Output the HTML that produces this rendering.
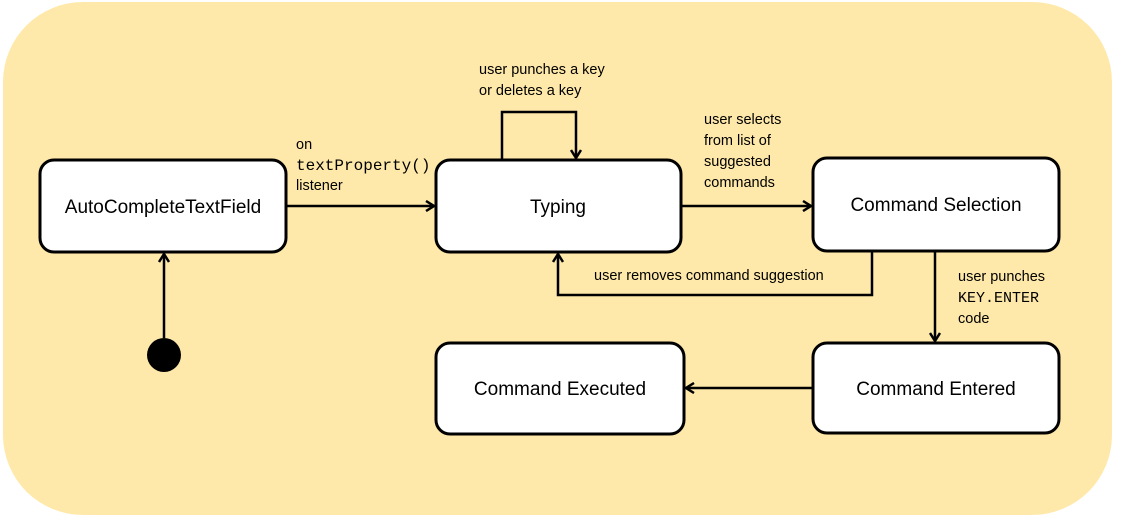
<!DOCTYPE html>
<html><head><meta charset="utf-8"><style>
html,body{margin:0;padding:0;background:#fff;}
svg{display:block;font-family:"Liberation Sans",sans-serif;}
.m{font-family:"Liberation Mono",monospace;}
</style></head><body>
<svg width="1122" height="520" viewBox="0 0 1122 520">
<defs><marker id="a" markerWidth="12" markerHeight="12" refX="10" refY="6" orient="auto" markerUnits="userSpaceOnUse"><path d="M2,1 L10,6 L2,11" fill="none" stroke="#000" stroke-width="2.5"/></marker></defs>
<rect x="3" y="2" width="1109" height="513" rx="80" fill="#FFE9AA"/>
<g fill="#fff" stroke="#000" stroke-width="3">
<rect x="40" y="160" width="246" height="92" rx="14"/>
<rect x="436" y="160" width="245" height="92" rx="14"/>
<rect x="813" y="158" width="246" height="93" rx="14"/>
<rect x="813" y="343" width="246" height="90" rx="14"/>
<rect x="436" y="343" width="248" height="91" rx="14"/>
</g>
<circle cx="164" cy="355" r="17" fill="#000"/>
<g fill="none" stroke="#000" stroke-width="2.5" marker-end="url(#a)">
<path d="M164,338 V254"/>
<path d="M286,206 H434"/>
<path d="M502,160 V112 H576 V158"/>
<path d="M681,206 H811"/>
<path d="M872,251 V295 H558 V254"/>
<path d="M935,251 V341"/>
<path d="M813,388 H686"/>
</g>
<g font-size="19" text-anchor="middle">
<text x="163" y="213">AutoCompleteTextField</text>
<text x="558" y="213">Typing</text>
<text x="936" y="211">Command Selection</text>
<text x="936" y="395">Command Entered</text>
<text x="560" y="395">Command Executed</text>
</g>
<g font-size="14.5">
<text x="296" y="149">on</text>
<text x="296" y="170" class="m" font-size="16">textProperty()</text>
<text x="296" y="190">listener</text>
<text x="479" y="74">user punches a key</text>
<text x="479" y="95">or deletes a key</text>
<text x="704" y="124">user selects</text>
<text x="704" y="145">from list of</text>
<text x="704" y="166">suggested</text>
<text x="704" y="187">commands</text>
<text x="594" y="280">user removes command suggestion</text>
<text x="958" y="281">user punches</text>
<text x="958" y="302" class="m" font-size="15">KEY.ENTER</text>
<text x="958" y="323">code</text>
</g>
</svg>
</body></html>
